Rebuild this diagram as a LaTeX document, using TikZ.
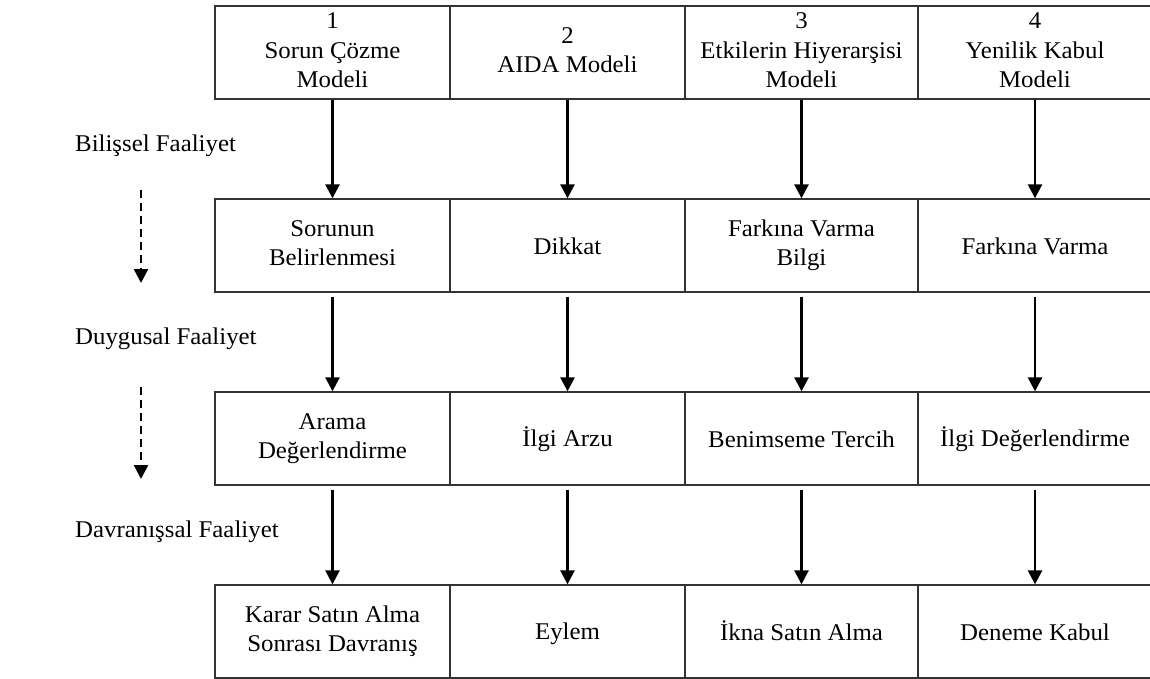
\documentclass[tikz,border=0pt]{standalone}
\usepackage{fontspec}
\setmainfont{Liberation Serif}[FakeStretch=1.035]
\usetikzlibrary{arrows.meta}
\newcommand{\cellstrutA}{\rule{0pt}{22pt}}
\newcommand{\cellstrutB}{\rule[-4.4pt]{0pt}{4.4pt}}
\begin{document}
\begin{tikzpicture}[x=1pt,y=-1pt,
  cell/.style={draw=black!80,line width=1.3pt,minimum height=93pt,inner sep=0pt,align=center,
    font=\fontsize{24}{29.3}\selectfont,
    execute at begin node=\cellstrutA,execute at end node=\cellstrutB},
  flow/.style={line width=2.6pt,-{Triangle[length=14pt,width=14pt]}},
  side/.style={line width=2.4pt,dash pattern=on 8pt off 5pt,-{Triangle[length=14pt,width=14pt]}},
  lab/.style={anchor=base west,inner sep=0pt,font=\fontsize{24}{29}\selectfont}]
\useasboundingbox (0,0) rectangle (1150,679);

% row 1
\node[cell,minimum width=235pt] (r1c1) at (332.5,52.5) {1\\Sorun Çözme\\Modeli};
\node[cell,minimum width=235pt] (r1c2) at (567.5,52.5) {2\\AIDA Modeli};
\node[cell,minimum width=233pt] (r1c3) at (801.5,52.5) {3\\Etkilerin Hiyerarşisi\\Modeli};
\node[cell,minimum width=234pt] (r1c4) at (1035,52.5) {4\\Yenilik Kabul\\Modeli};
% row 2
\node[cell,minimum width=235pt] (r2c1) at (332.5,245.5) {Sorunun\\Belirlenmesi};
\node[cell,minimum width=235pt] (r2c2) at (567.5,245.5) {Dikkat};
\node[cell,minimum width=233pt] (r2c3) at (801.5,245.5) {Farkına Varma\\Bilgi};
\node[cell,minimum width=234pt] (r2c4) at (1035,245.5) {Farkına Varma};
% row 3
\node[cell,minimum width=235pt] (r3c1) at (332.5,438.5) {Arama\\Değerlendirme};
\node[cell,minimum width=235pt] (r3c2) at (567.5,438.5) {İlgi Arzu};
\node[cell,minimum width=233pt] (r3c3) at (801.5,438.5) {Benimseme Tercih};
\node[cell,minimum width=234pt] (r3c4) at (1035,438.5) {İlgi Değerlendirme};
% row 4
\node[cell,minimum width=235pt] (r4c1) at (332.5,631.5) {Karar Satın Alma\\Sonrası Davranış};
\node[cell,minimum width=235pt] (r4c2) at (567.5,631.5) {Eylem};
\node[cell,minimum width=233pt] (r4c3) at (801.5,631.5) {İkna Satın Alma};
\node[cell,minimum width=234pt] (r4c4) at (1035,631.5) {Deneme Kabul};

% vertical arrows
\foreach \c in {1,2,3,4}{
  \draw[flow] (r1c\c.south) -- (r2c\c.north);
  \draw[flow,shorten <=4pt] (r2c\c.south) -- (r3c\c.north);
  \draw[flow,shorten <=4pt] (r3c\c.south) -- (r4c\c.north);
}

% side labels
\node[lab] (l1) at (75,151.7) {Bilişsel Faaliyet};
\node[lab] (l2) at (75,344) {Duygusal Faaliyet};
\node[lab] (l3) at (75,537) {Davranışsal Faaliyet};

% dashed arrows
\coordinate (d1s) at (141,190);
\coordinate (d1e) at (141,283);
\coordinate (d2s) at (141,387);
\coordinate (d2e) at (141,479);
\draw[side] (d1s) -- (d1e);
\draw[side] (d2s) -- (d2e);
\end{tikzpicture}
\end{document}
